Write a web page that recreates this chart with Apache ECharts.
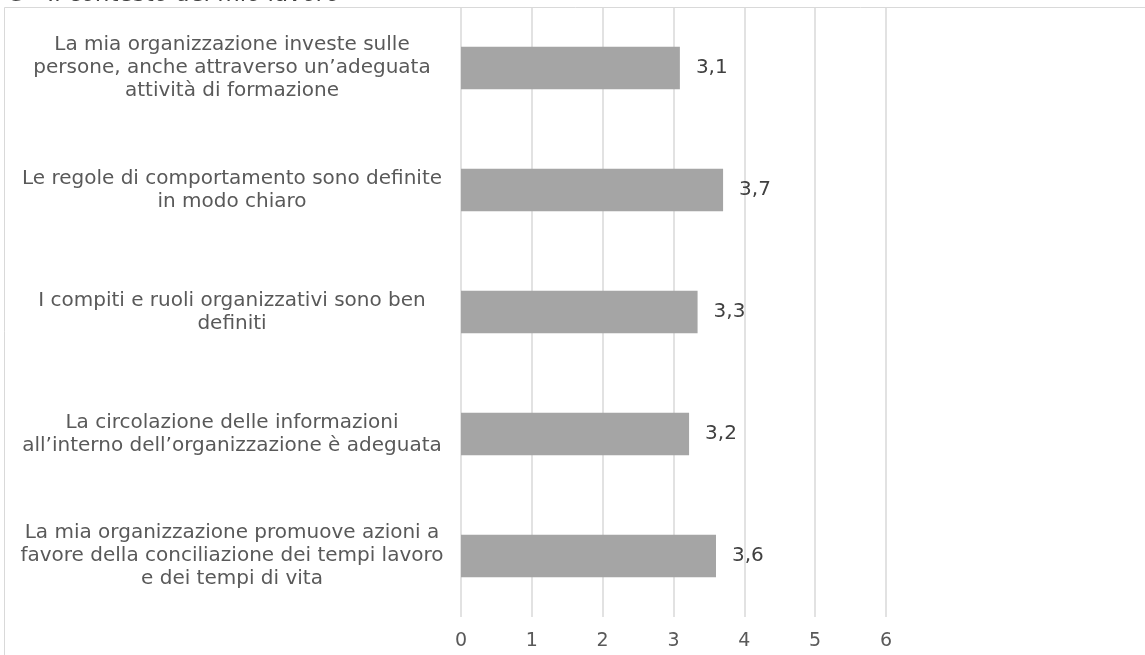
<!DOCTYPE html>
<html>
<head>
<meta charset="utf-8">
<script src="https://cdn.jsdelivr.net/npm/echarts@6/dist/echarts.min.js"></script>
<style>
  html, body { margin: 0; padding: 0; background: #fff; }
  #plot { width: 1145px; height: 655px; }
</style>
</head>
<body>
<div id="plot"></div>
<script>
// categorie (dall'alto in basso)
var categories = [
  'La mia organizzazione investe sulle\npersone, anche attraverso un\u2019adeguata\nattività di formazione',
  'Le regole di comportamento sono definite\nin modo chiaro',
  'I compiti e ruoli organizzativi sono ben\ndefiniti',
  'La circolazione delle informazioni\nall\u2019interno dell\u2019organizzazione è adeguata',
  'La mia organizzazione promuove azioni a\nfavore della conciliazione dei tempi lavoro\ne dei tempi di vita'
];
// punteggi medi
var values = [3.09, 3.70, 3.34, 3.22, 3.60];
var xTicks = [0, 1, 2, 3, 4, 5, 6];

var myChart = echarts.init(document.getElementById('plot'));

var option = {
  backgroundColor: '#fff',
  animation: false,
  textStyle: { fontFamily: 'DejaVu Sans' },
  graphic: [
    {
      type: 'rect',
      shape: { x: 4.5, y: 7.5, width: 1200, height: 700 },
      style: { fill: 'none', stroke: '#d9d9d9', lineWidth: 1 }
    },
    {
      type: 'text',
      left: 8,
      top: -16,
      style: {
        text: 'G - Il contesto del mio lavoro',
        font: 'italic 23px "DejaVu Sans"',
        fill: '#404040'
      }
    }
  ],
  grid: { left: 461, right: 259, top: 7, bottom: 38, containLabel: false },
  xAxis: {
    type: 'value',
    min: xTicks[0],
    max: xTicks[xTicks.length - 1],
    interval: 1,
    axisLine: { show: false },
    axisTick: { show: false },
    axisLabel: { color: '#595959', fontSize: 19, margin: 15 },
    splitLine: { show: true, lineStyle: { color: '#d9d9d9', width: 1.5 } }
  },
  yAxis: {
    type: 'category',
    inverse: true,
    data: categories,
    axisLine: { show: false },
    axisTick: { show: false },
    axisLabel: {
      color: '#595959',
      fontSize: 20,
      lineHeight: 23,
      align: 'center',
      margin: 229
    }
  },
  series: [{
    type: 'bar',
    data: values,
    barWidth: '35%',
    itemStyle: { color: '#a5a5a5' },
    label: {
      show: true,
      position: 'right',
      distance: 16,
      color: '#404040',
      fontSize: 20,
      formatter: function (p) { return p.value.toFixed(1).replace('.', ','); }
    }
  }]
};

myChart.setOption(option);
</script>
</body>
</html>
